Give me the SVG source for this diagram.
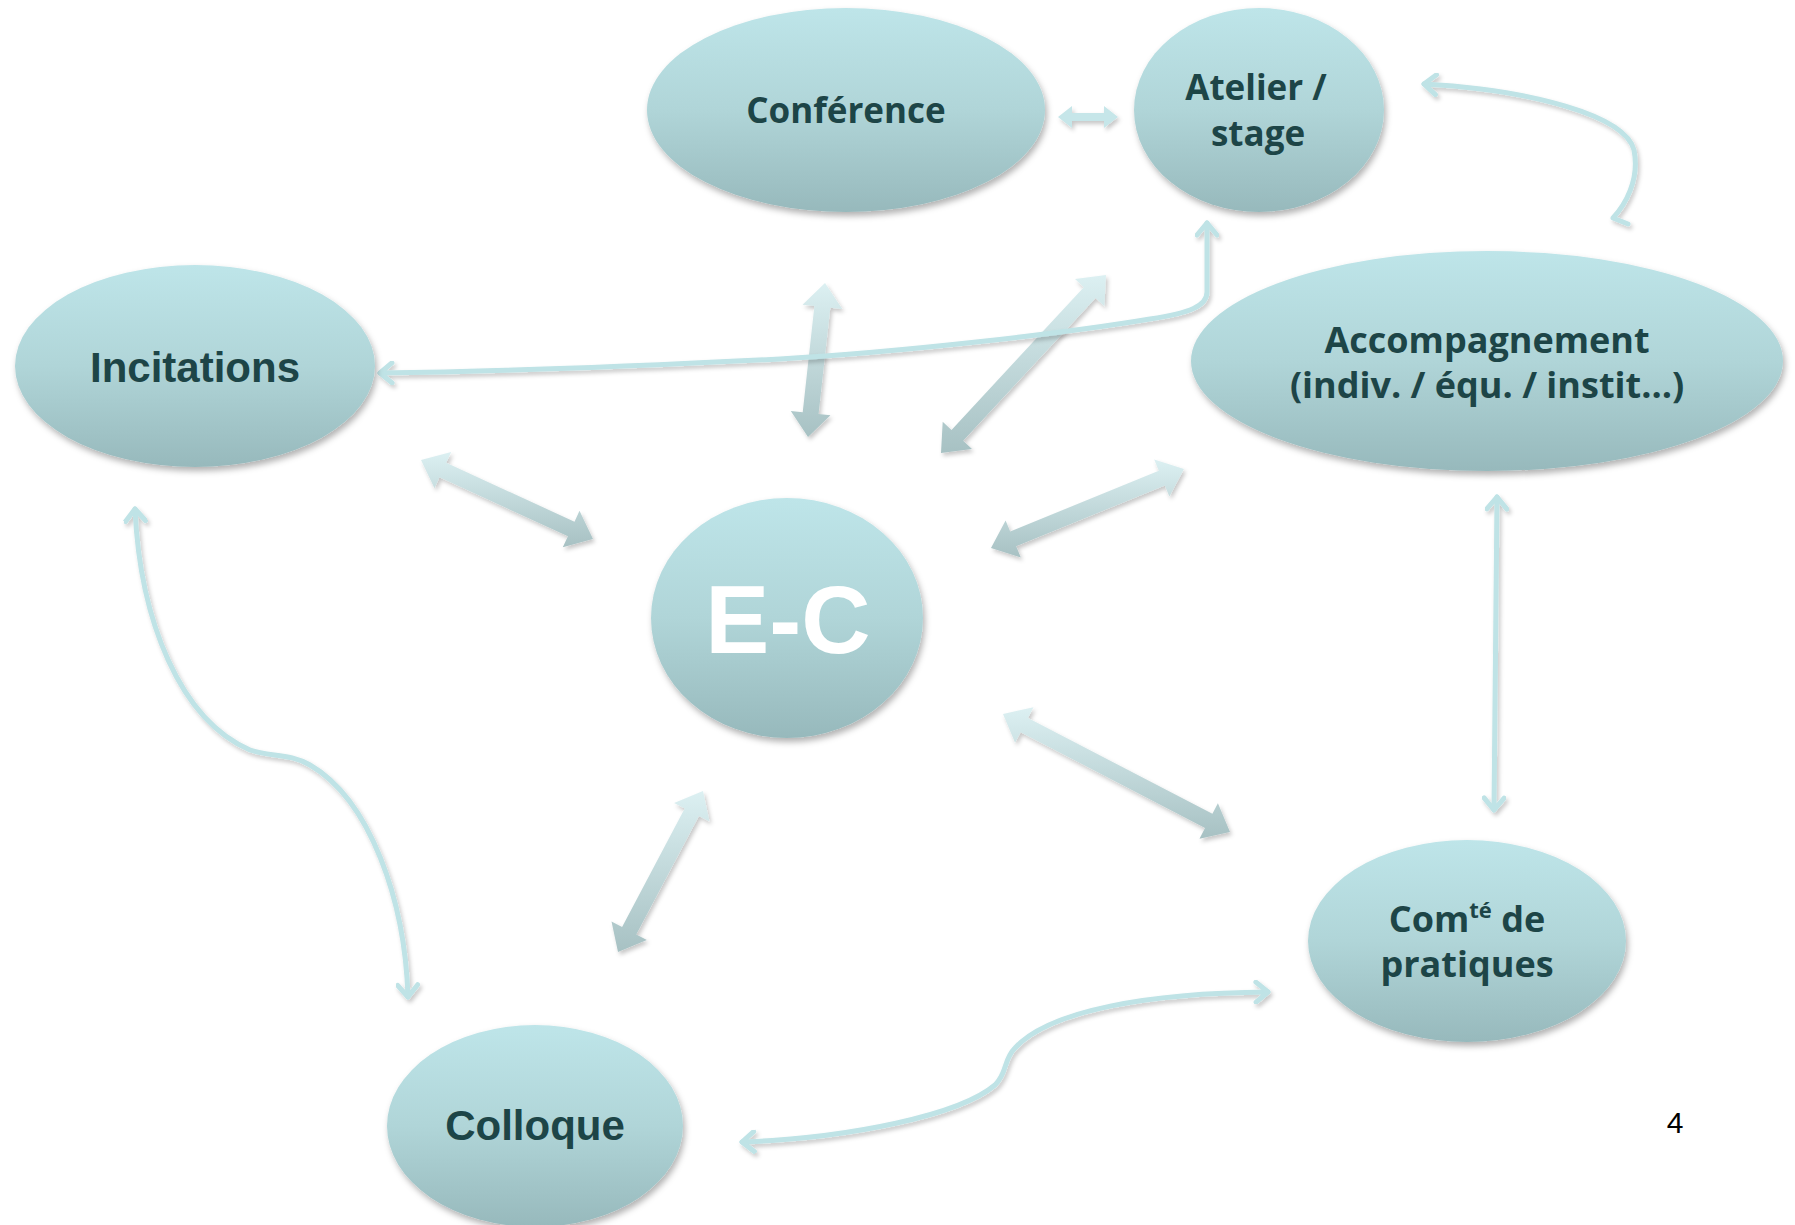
<svg xmlns="http://www.w3.org/2000/svg" width="1795" height="1225" viewBox="0 0 1795 1225">
  <defs>
    <linearGradient id="gNode" x1="0" y1="0" x2="0" y2="1">
      <stop offset="0" stop-color="#bee5e9"/>
      <stop offset="0.5" stop-color="#b0d5d8"/>
      <stop offset="1" stop-color="#97b9bc"/>
    </linearGradient>
    <linearGradient id="gArrow" x1="0" y1="0" x2="0" y2="1">
      <stop offset="0" stop-color="#dcf0f2"/>
      <stop offset="1" stop-color="#a7c1c3"/>
    </linearGradient>
    <filter id="shNode" x="-10%" y="-10%" width="125%" height="130%">
      <feDropShadow dx="2" dy="4" stdDeviation="3" flood-color="#000" flood-opacity="0.3"/>
    </filter>
    <filter id="shLine" filterUnits="userSpaceOnUse" x="0" y="0" width="1795" height="1225">
      <feDropShadow dx="2" dy="3" stdDeviation="2" flood-color="#000" flood-opacity="0.22"/>
    </filter>
    <marker id="chev" viewBox="0 0 24 24" markerUnits="userSpaceOnUse" markerWidth="24" markerHeight="24" refX="15" refY="12" orient="auto-start-reverse">
      <path d="M3,2 L15,12 L3,22" fill="none" stroke="#bfe3e6" stroke-width="5" stroke-linecap="round" stroke-linejoin="round"/>
    </marker>
    <style>
      .node { fill: url(#gNode); filter: url(#shNode); }
      .cal { font-family: "Open Sans", "Noto Sans", sans-serif; font-weight: 700; fill: #1d4547; text-anchor: middle; }
      .ari { font-family: "Liberation Sans", Arial, sans-serif; font-weight: 700; fill: #1d4547; text-anchor: middle; }
      .blk { fill: url(#gArrow); filter: url(#shLine); }
      .ln { fill: none; stroke: #bfe3e6; stroke-width: 5; stroke-linecap: round; stroke-linejoin: round; filter: url(#shLine); }
    </style>
  </defs>
  <rect width="1795" height="1225" fill="#ffffff"/>

  <g id="connectors">
    <polygon class="blk" points="1058,117 1072,106 1072,113 1104,113 1104,106 1118,117 1104,128 1104,121 1072,121 1072,128" style="fill:#c6e6e9"/>
    <polygon class="blk" points="825,283 802.5,304.7 814.4,306 802.7,412.3 790.8,411 808,437 830.5,415.3 818.6,414 830.3,307.7 842.3,309"/>
    <polygon class="blk" points="1106,275 1075,279 1083.8,287.2 951.5,430 942.7,421.8 941,453 972,449 963.2,440.8 1095.6,298 1104.4,306.2"/>
    <polygon class="blk" points="421,460 434.5,488.2 439.5,477.3 567.9,536.3 562.8,547.2 593,539 579.5,510.8 574.5,521.7 446.2,462.8 451.2,451.9"/>
    <polygon class="blk" points="1184,469 1154.2,459.6 1158.8,470.7 1010.2,531.5 1005.6,520.4 991,548 1020.8,557.4 1016.2,546.3 1164.8,485.5 1169.4,496.6"/>
    <polygon class="blk" points="1003,714 1015.1,742.8 1020.6,732.2 1205,828 1199.5,838.7 1230,832 1217.9,803.2 1212.4,813.8 1028,718 1033.5,707.3"/>
    <polygon class="blk" points="703,791 674.1,802.9 684.7,808.5 622.1,927 611.5,921.4 618,952 646.9,940.1 636.3,934.5 698.9,816 709.5,821.6"/>

    <path class="ln" d="M1628,224 L1613,218 C1625,205 1640,180 1634,150 C1625,115 1530,90 1424,84" marker-end="url(#chev)"/>
    <path class="ln" d="M1207,223 L1207,292 C1207,306 1190,313 1150,319 C1060,334 900,352 780,359 C620,367 480,372 380,373" marker-start="url(#chev)" marker-end="url(#chev)"/>
    <path class="ln" d="M1497,497 L1494,810" marker-start="url(#chev)" marker-end="url(#chev)"/>
    <path class="ln" d="M135,509 C140,620 180,720 250,750 C270,757 290,753 310,765 C370,800 405,900 408,997" marker-start="url(#chev)" marker-end="url(#chev)"/>
    <path class="ln" d="M742,1142 C850,1138 960,1115 995,1085 C1008,1072 1003,1060 1015,1048 C1050,1010 1150,993 1268,992" marker-start="url(#chev)" marker-end="url(#chev)"/>
  </g>

  <g id="conference">
    <ellipse class="node" cx="846" cy="110" rx="199" ry="102"/>
    <text class="cal" x="846" y="123" font-size="35">Conférence</text>
  </g>
  <g id="atelier">
    <ellipse class="node" cx="1259" cy="110" rx="125" ry="102"/>
    <text class="cal" x="1256" y="100" font-size="35">Atelier /</text>
    <text class="cal" x="1258" y="146" font-size="35">stage</text>
  </g>
  <g id="incitations">
    <ellipse class="node" cx="195" cy="366" rx="180" ry="101"/>
    <text class="ari" x="195" y="382" font-size="42">Incitations</text>
  </g>
  <g id="accompagnement">
    <ellipse class="node" cx="1487" cy="361" rx="296" ry="110"/>
    <text class="cal" x="1487" y="353" font-size="36">Accompagnement</text>
    <text class="cal" x="1487" y="398" font-size="36">(indiv. / équ. / instit…)</text>
  </g>
  <g id="ec">
    <ellipse class="node" cx="787" cy="618" rx="136" ry="120"/>
    <text class="ari" x="788" y="653" font-size="96" style="fill:#ffffff">E-C</text>
  </g>
  <g id="comte">
    <ellipse class="node" cx="1467" cy="941" rx="159" ry="101"/>
    <text class="cal" x="1467" y="932" font-size="36">Com<tspan font-size="22" dy="-14">té</tspan><tspan dy="14"> de</tspan></text>
    <text class="cal" x="1467" y="977" font-size="36">pratiques</text>
  </g>
  <g id="colloque">
    <ellipse class="node" cx="535" cy="1126" rx="148" ry="101"/>
    <text class="ari" x="535" y="1140" font-size="42">Colloque</text>
  </g>
  <text x="1675" y="1133" font-family="Liberation Sans, Arial, sans-serif" font-size="30" text-anchor="middle" fill="#000000">4</text>
</svg>
